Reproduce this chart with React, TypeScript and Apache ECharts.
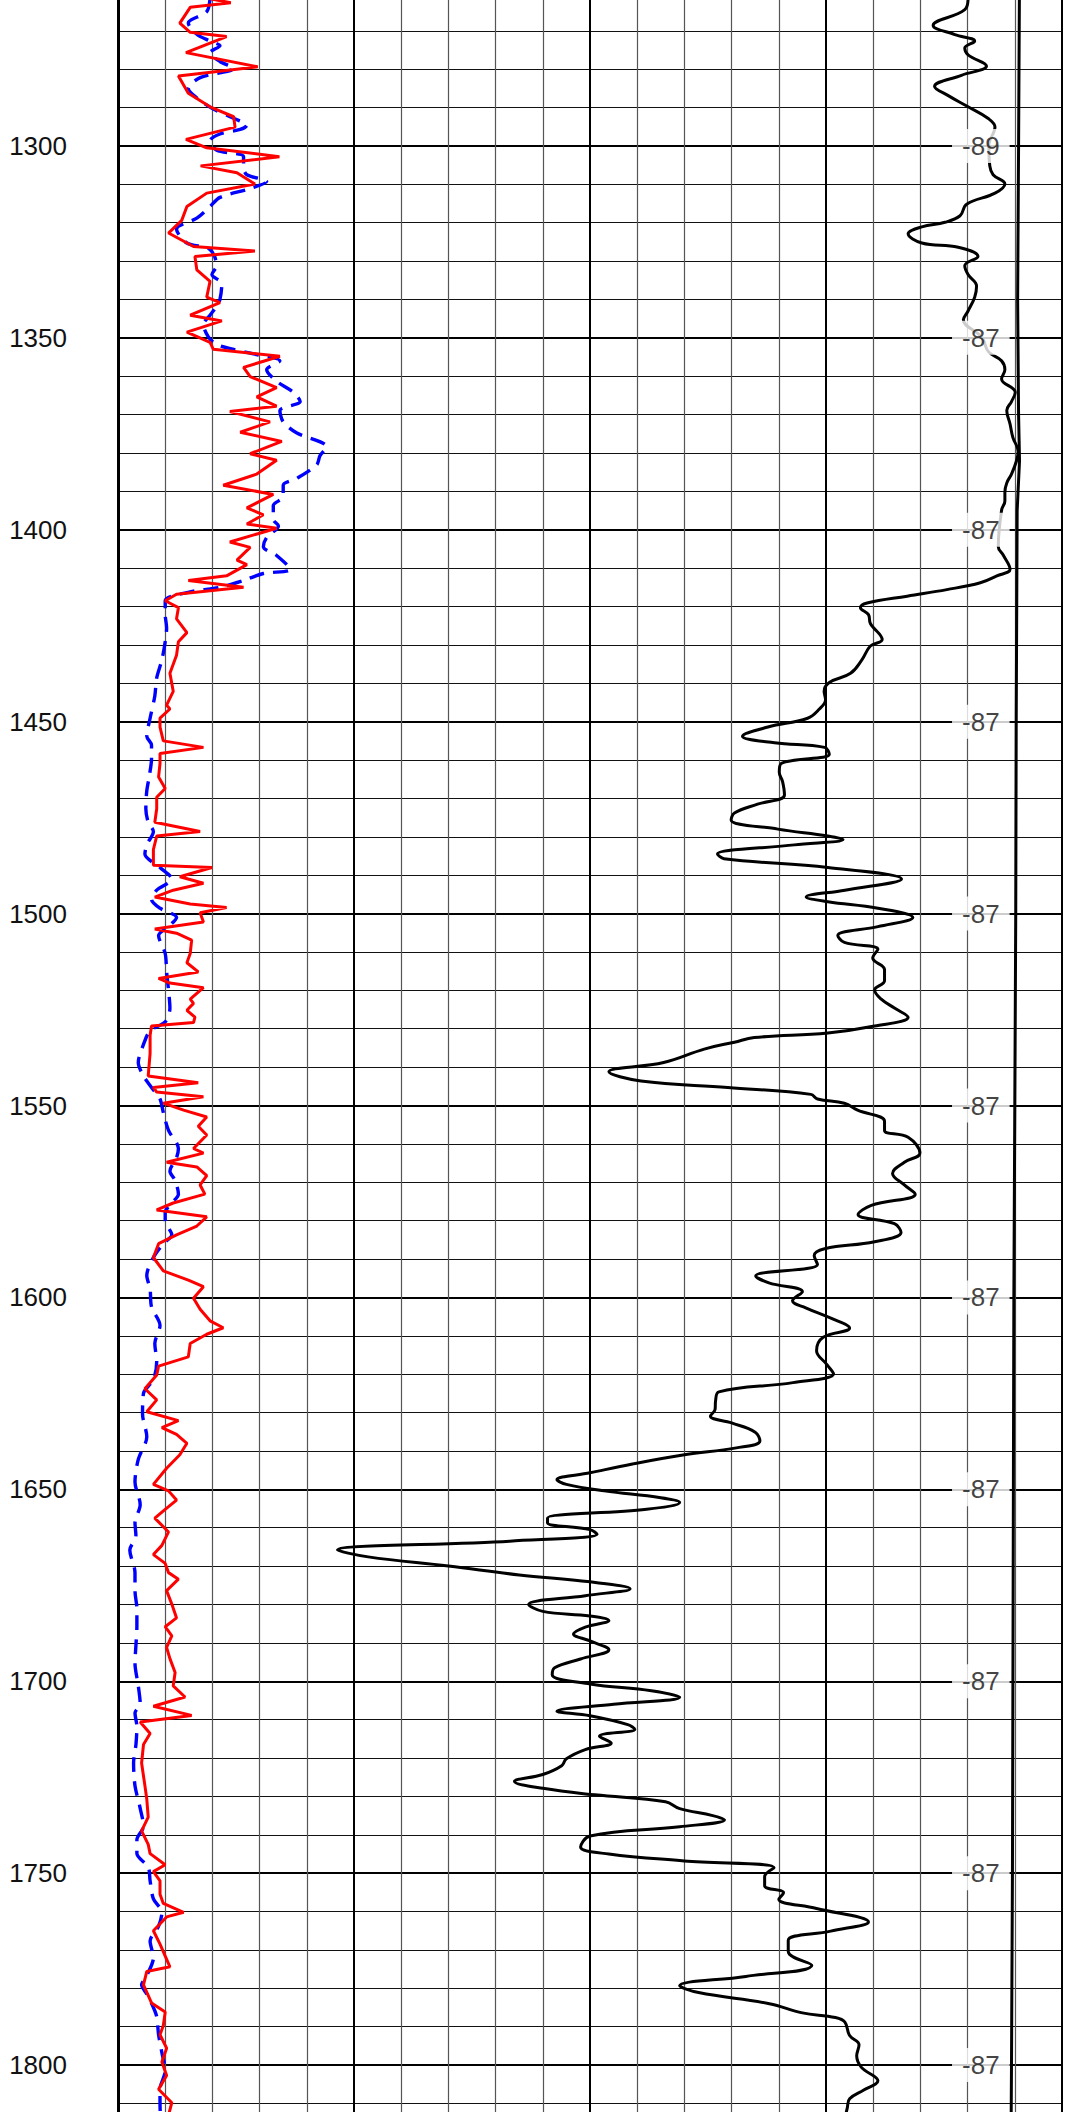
import React, { useEffect, useRef } from "react";
import * as echarts from "echarts";

// ---- depth axis ----
const DEPTH_MIN = 1250;
const DEPTH_MAX = 1850;
const DEPTH_STEP = 50;

// ---- red curve (solid) ----
const redDepth = [1261.5,1262.7,1263.9,1268.0,1270.4,1271.5,1275.7,1279.4,1281.8,1286.3,1289.8,1292.4,1295.1,1298.3,1300.5,1302.8,1305.2,1307.0,1309.9,1312.3,1315.8,1319.4,1322.7,1326.2,1327.4,1328.8,1332.3,1335.3,1339.4,1340.8,1344.1,1345.6,1348.5,1351.2,1353.0,1354.8,1357.7,1360.1,1363.0,1365.4,1367.8,1369.2,1371.9,1374.6,1377.0,1380.2,1381.9,1385.5,1388.4,1390.8,1394.3,1396.1,1398.5,1399.6,1403.2,1404.6,1407.9,1409.1,1412.0,1413.2,1415.0,1416.8,1418.5,1420.3,1423.2,1426.8,1429.2,1432.7,1437.4,1442.1,1445.7,
1446.7,1449.1,1451.4,1455.0,1456.7,1458.3,1460.9,1464.4,1467.4,1469.7,1472.7,1476.2,1478.6,1479.8,1483.3,1487.4,1488.0,1490.4,1492.1,1493.9,1495.7,1497.5,1498.4,1499.8,1502.2,1504.0,1505.1,1506.9,1510.4,1512.8,1515.2,1516.9,1518.1,1519.3,1522.3,1523.4,1525.2,1527.0,1528.4,1529.3,1531.7,1536.4,1542.3,1544.1,1545.3,1546.5,1547.7,1549.4,1551.2,1553.0,1555.4,1557.7,1561.2,1562.4,1564.8,1566.0,1568.3,1570.7,1573.1,1575.4,1577.2,1579.0,1581.4,1583.7,1586.0,1589.6,1593.1,1595.5,1597.2,1600.2,1603.1,1606.1,1607.9,1609.6,1612.0,1615.5,1617.9,1620.2,1623.8,1626.7,
1629.8,1632.1,1633.9,1635.7,1638.0,1641.0,1644.5,1648.7,1650.4,1652.8,1655.2,1657.5,1661.1,1664.6,1667.0,1669.3,1671.7,1673.4,1676.4,1679.9,1683.5,1685.8,1688.2,1691.2,1694.1,1697.7,1701.2,1704.1,1706.5,1708.9,1710.6,1713.6,1716.5,1721.3,1727.2,1730.7,1735.4,1739.0,1742.5,1744.9,1747.8,1749.6,1752.0,1755.5,1757.9,1760.2,1761.4,1765.0,1768.5,1774.4,1775.6,1779.1,1783.8,1786.2,1789.7,1792.1,1795.6,1799.2,1802.7,1806.3,1809.8,1814.0];
const redValue = [1.88,2.39,1.53,1.31,1.53,2.30,1.44,2.96,1.28,1.49,1.95,2.45,2.48,1.44,1.88,3.42,1.75,2.52,2.90,1.88,1.46,1.35,1.07,1.60,2.90,1.63,1.67,1.95,1.88,2.16,1.53,2.20,1.46,1.95,2.02,3.43,2.66,2.80,3.36,2.94,3.36,2.37,3.22,2.59,3.47,2.80,3.36,2.94,2.23,3.29,2.73,3.08,2.73,3.36,2.37,2.80,2.52,2.73,2.30,1.49,2.66,1.24,1.00,1.28,1.24,1.46,1.28,1.24,1.10,1.17,1.03,
1.10,0.89,0.89,0.96,1.81,0.89,0.89,0.86,1.00,0.82,0.82,0.78,1.74,0.82,0.75,0.75,1.99,1.31,1.81,1.17,0.78,1.53,2.30,1.74,1.81,0.78,1.24,1.56,1.53,1.46,1.70,0.86,1.10,1.81,1.53,1.60,1.46,1.63,1.60,0.71,0.68,0.68,0.64,1.70,0.75,0.82,1.81,0.96,1.39,1.88,1.70,1.88,1.60,1.81,1.03,1.67,1.88,1.74,1.84,1.17,0.82,1.88,1.67,1.24,0.86,0.75,0.96,1.49,1.81,1.60,1.74,1.95,2.23,1.88,1.53,1.49,0.86,0.82,0.57,0.82,
0.61,1.28,0.93,1.24,1.46,1.31,1.03,0.75,1.07,1.24,1.00,0.78,1.07,0.93,0.75,1.00,1.07,1.28,1.03,1.14,1.24,1.00,1.14,1.03,1.10,1.21,1.17,1.42,0.75,1.56,0.47,0.68,0.54,0.50,0.57,0.61,0.64,0.50,0.64,0.68,1.00,0.75,0.89,0.89,0.96,1.39,1.03,0.75,0.89,1.10,0.61,0.54,0.71,1.00,0.96,0.89,1.03,0.93,1.03,0.86,1.14,1.05];

// ---- blue curve (dashed) ----
const blueDepth = [1261.5,1265.0,1268.0,1270.9,1272.7,1273.9,1275.7,1278.0,1279.8,1282.2,1285.1,1287.5,1290.4,1292.8,1294.6,1295.7,1296.9,1298.7,1301.1,1302.8,1305.8,1307.5,1309.3,1311.1,1313.4,1315.8,1318.8,1321.7,1325.3,1327.0,1331.2,1333.5,1335.9,1340.0,1341.8,1344.1,1346.5,1351.2,1353.0,1354.2,1356.0,1358.3,1361.3,1364.2,1366.6,1368.9,1371.9,1374.8,1378.4,1380.7,1383.1,1386.6,1388.4,1391.4,1393.7,1397.3,1399.0,1402.0,1404.4,1406.7,1410.3,1411.4,1413.2,1415.0,1416.2,1418.5,1422.1,1425.6,1429.2,1433.9,1438.6,1443.3,
1449.1,1453.8,1456.1,1459.7,1464.4,1468.0,1472.7,1476.2,1478.6,1482.1,1484.5,1488.0,1491.0,1493.9,1496.3,1498.6,1501.0,1503.4,1505.7,1510.4,1515.2,1519.9,1524.6,1528.2,1530.5,1534.1,1538.8,1542.3,1545.3,1548.3,1551.8,1556.5,1561.2,1563.6,1567.1,1569.5,1573.1,1575.4,1577.8,1580.1,1583.7,1586.0,1589.6,1594.3,1597.8,1602.5,1607.3,1612.0,1616.7,1621.4,1625.0,
1630.4,1636.3,1642.2,1648.1,1654.0,1658.7,1662.2,1665.8,1671.7,1676.4,1681.1,1685.8,1690.6,1695.3,1701.2,1705.9,1708.3,1711.8,1716.5,1721.3,1727.2,1733.1,1737.8,1741.3,1744.9,1748.4,1752.0,1756.7,1760.2,1763.8,1767.7,1772.0,1776.7,1779.1,1781.5,1785.0,1787.4,1792.1,1796.8,1801.5,1806.3,1809.8,1814.0];
const blueValue = [1.95,1.88,1.49,1.67,1.95,2.16,1.95,2.16,2.45,1.74,1.49,1.67,2.02,2.45,2.73,2.59,2.16,1.95,2.09,2.66,2.66,2.73,3.15,2.80,2.16,1.95,1.67,1.24,1.46,1.95,2.09,1.99,2.20,2.16,2.09,1.95,1.81,2.02,2.45,2.87,3.43,3.15,3.36,3.72,3.86,3.43,3.50,3.79,4.42,4.28,4.21,3.79,3.50,3.50,3.29,3.29,3.40,3.15,3.08,3.36,3.65,3.08,2.66,2.16,1.53,1.00,1.00,1.03,1.00,0.93,0.82,0.78,
0.68,0.61,0.71,0.71,0.66,0.61,0.59,0.64,0.75,0.61,0.57,0.89,1.14,0.82,0.71,0.89,1.24,1.07,0.86,1.00,1.03,1.07,1.10,1.00,0.68,0.54,0.43,0.54,0.71,0.89,0.96,1.07,1.28,1.24,1.10,1.21,1.28,1.14,1.00,1.00,1.14,0.96,0.75,0.61,0.68,0.71,0.89,0.78,0.82,0.75,0.54,
0.52,0.61,0.43,0.36,0.47,0.36,0.38,0.25,0.36,0.36,0.40,0.40,0.38,0.36,0.43,0.47,0.36,0.40,0.38,0.33,0.36,0.47,0.54,0.40,0.40,0.64,0.68,0.75,0.93,0.86,0.68,0.75,0.61,0.50,0.61,0.75,0.82,0.86,0.93,1.00,0.89,0.89,0.90];

// ---- black curve ----
const spDepth = [1261.5,1264.5,1268.6,1271.0,1272.7,1274.5,1276.3,1279.2,1281.6,1284.5,1286.9,1289.8,1292.8,1295.1,1299.9,1305.2,1307.5,1309.9,1312.3,1315.2,1318.2,1319.9,1321.1,1322.9,1325.3,1326.4,1328.8,1331.2,1333.5,1336.5,1339.4,1343.0,1345.3,1349.8,1353.6,1356.0,1358.3,1360.7,1364.2,1366.6,1368.9,1372.5,1376.0,1379.6,1381.9,1385.5,1387.8,1390.2,1392.5,1394.9,1404.4,1406.7,1410.3,1412.0,1413.8,1415.6,1417.3,1419.1,1420.3,1422.1,1424.4,1428.6,1430.3,1433.9,1437.4,1439.8,1442.1,
1444.3,1446.7,1449.1,1451.4,1453.8,1455.5,1456.7,1458.5,1460.9,1463.2,1465.6,1469.1,1471.5,1473.8,1475.6,1478.0,1479.8,1480.7,1482.1,1484.5,1485.7,1488.0,1491.0,1493.9,1495.7,1496.9,1498.6,1501.0,1503.4,1505.7,1507.5,1509.3,1511.6,1514.6,1517.5,1519.9,1522.3,1524.6,1527.0,1529.3,1531.1,1532.3,1533.5,1535.3,1538.8,1541.2,1543.6,1545.3,1547.1,1548.3,1549.4,1551.2,1554.1,1556.5,1558.3,1562.4,1564.8,1567.7,1570.7,1573.1,1576.0,1578.4,1580.8,1583.1,1585.5,1587.3,1589.1,1591.4,1594.4,1596.2,1598.5,1600.9,1602.7,1605.6,1608.0,1610.4,1613.9,1617.5,1619.9,1622.2,1624.6,1627.0,
1629.2,1630.9,1632.7,1635.1,1637.4,1639.2,1641.0,1643.4,1645.7,1647.5,1648.7,1650.4,1652.2,1653.4,1655.2,1657.5,1658.7,1660.5,1661.7,1663.5,1665.8,1667.6,1670.0,1672.3,1674.1,1675.9,1677.7,1680.0,1681.8,1683.0,1684.2,1685.9,1687.7,1689.5,1691.8,1694.2,1696.5,1698.3,1700.7,1702.5,1704.2,1706.0,1707.8,1709.0,1711.3,1712.5,1714.3,1716.1,1717.8,1720.2,1722.0,1724.3,1726.1,1727.9,1729.6,1731.4,1733.2,1735.0,1736.1,1737.9,1740.3,1743.2,1745.0,1746.8,1748.6,1750.9,1753.3,1755.1,1756.8,1759.2,1762.7,1765.1,1767.5,1770.4,1774.0,1776.9,1779.3,1781.1,1784.0,1786.4,1787.6,1788.8,1792.3,1794.7,1797.6,1800.6,1804.1,1806.5,1808.8,1811.2,1814.0];
const spValue = [18.01,17.94,17.27,17.73,18.15,17.94,18.01,18.40,17.87,17.30,17.59,18.01,18.43,18.58,18.45,18.47,18.54,18.79,18.58,17.98,17.84,17.52,17.03,16.74,17.03,17.80,18.22,17.94,18.01,18.19,18.15,18.01,17.91,18.30,18.44,18.72,18.79,18.72,19.01,18.93,18.83,18.90,18.96,19.07,19.04,18.93,18.83,18.79,18.79,18.72,18.65,18.76,18.90,18.62,18.27,17.56,16.72,15.87,15.73,15.90,15.94,16.19,15.94,15.76,15.52,15.07,14.96,
14.99,14.86,14.61,13.77,13.23,13.91,14.97,15.07,14.05,14.01,14.08,14.12,13.55,13.06,12.99,13.98,15.04,15.36,14.33,12.70,12.84,15.04,16.60,15.40,14.58,15.04,16.10,16.84,16.10,15.25,15.39,16.10,15.99,16.24,16.24,16.03,16.17,16.45,16.74,16.03,15.04,13.48,13.06,12.42,11.56,10.40,11.08,12.92,14.68,14.82,15.39,15.67,16.24,16.24,16.74,16.99,16.66,16.41,16.66,16.89,15.96,15.68,16.45,16.59,16.03,14.97,14.75,14.82,13.51,13.79,14.50,14.29,14.57,15.14,15.50,14.94,14.80,15.02,15.16,14.30,12.73,12.66,
12.65,12.55,13.00,13.50,13.60,13.10,12.00,10.90,10.00,9.30,9.50,10.30,11.50,11.90,11.20,9.10,9.10,10.00,10.15,8.30,4.65,5.30,7.00,8.50,10.00,10.85,9.90,8.70,9.00,10.00,10.40,9.90,9.65,10.00,10.40,9.80,9.25,9.20,10.00,11.30,11.90,10.50,9.30,10.00,10.80,10.95,10.20,10.45,9.90,9.50,9.40,9.00,8.40,9.00,10.10,11.60,11.90,12.60,12.85,11.90,10.00,9.80,10.40,12.00,13.90,13.70,13.70,14.10,14.00,14.80,15.90,15.10,14.20,14.20,14.70,13.30,11.90,12.30,13.80,14.50,15.20,15.40,15.50,15.70,15.65,15.75,16.10,15.80,15.50,15.45,15.40];

// ---- near-constant black curve at right ----
const calDepth = [1255, 1300, 1340, 1370, 1382, 1395, 1450, 1500, 1550, 1600, 1650, 1700, 1750, 1800, 1820];
const calValue = [19.1, 19.08, 19.06, 19.08, 19.1, 19.05, 19.03, 19.02, 19.0, 18.98, 18.97, 18.96, 18.95, 18.93, 18.92];

// ---- curve value labels ----
const tagDepth = [1300, 1350, 1400, 1450, 1500, 1550, 1600, 1650, 1700, 1750, 1800];
const tagText = ["-89", "-87", "-87", "-87", "-87", "-87", "-87", "-87", "-87", "-87", "-87"];
const TAG_POS = 18.28;

const FONT = "'Liberation Sans', Arial, sans-serif";
const PX_PER_UNIT = 3.838;
const Y1300 = 146;

export default function App() {
  const ref = useRef<HTMLDivElement>(null);
  const chartHeight = (DEPTH_MAX - DEPTH_MIN) * PX_PER_UNIT;
  const chartTop = Y1300 - (1300 - DEPTH_MIN) * PX_PER_UNIT;

  useEffect(() => {
    if (!ref.current) return;
    const chart = echarts.init(ref.current, null, { renderer: "svg" });
    const pairs = (v: number[], d: number[]) => d.map((dd, i) => [v[i], dd]);
    chart.setOption({
      animation: false,
      backgroundColor: "#ffffff",
      grid: { left: 118, right: 9, top: 0, bottom: 0, outerBoundsMode: "none", containLabel: false },
      xAxis: {
        type: "value",
        min: 0,
        max: 20,
        interval: 5,
        axisLine: { show: false },
        axisTick: { show: false },
        axisLabel: { show: false },
        splitLine: { show: true, lineStyle: { color: "#000", width: 2 } },
        minorTick: { show: false, splitNumber: 5 },
        minorSplitLine: { show: true, lineStyle: { color: "#555", width: 1.2 } },
      },
      yAxis: {
        type: "value",
        inverse: true,
        min: DEPTH_MIN,
        max: DEPTH_MAX,
        interval: DEPTH_STEP,
        axisLine: { show: true, onZero: false, lineStyle: { color: "#000", width: 3 } },
        axisTick: { show: false },
        axisLabel: {
          show: true,
          margin: 51,
          fontSize: 26,
          color: "#111",
          fontFamily: FONT,
          formatter: (v: number) => (v === DEPTH_MIN || v === DEPTH_MAX ? "" : String(v)),
        },
        splitLine: { show: true, lineStyle: { color: "#000", width: 2 } },
        minorTick: { show: false, splitNumber: 5 },
        minorSplitLine: { show: true, lineStyle: { color: "#111", width: 1 } },
      },
      series: [
        {
          name: "blue",
          type: "line",
          data: pairs(blueValue, blueDepth),
          symbol: "none",
          smooth: 0.3,
          lineStyle: { color: "#0000ff", width: 3.4, type: [15, 9] },
          z: 3,
        },
        {
          name: "red",
          type: "line",
          data: pairs(redValue, redDepth),
          symbol: "none",
          lineStyle: { color: "#ff0000", width: 3 },
          z: 4,
        },
        {
          name: "black",
          type: "line",
          data: pairs(spValue, spDepth),
          symbol: "none",
          smooth: 0.4,
          lineStyle: { color: "#000", width: 3 },
          z: 4,
        },
        {
          name: "tags",
          type: "scatter",
          silent: true,
          symbolSize: 1,
          itemStyle: { color: "rgba(0,0,0,0)" },
          data: tagDepth.map((d, i) => ({ value: [TAG_POS, d], name: tagText[i] })),
          label: {
            show: true,
            position: "inside",
            formatter: (p: any) => p.name,
            fontSize: 26,
            lineHeight: 26,
            color: "#111",
            fontFamily: FONT,
            backgroundColor: "#ffffff",
            padding: [4, 10],
          },
          z: 10,
        },
        {
          name: "cal",
          type: "line",
          data: pairs(calValue, calDepth),
          symbol: "none",
          lineStyle: { color: "#000", width: 3 },
          z: 11,
        },
      ],
    });
    return () => chart.dispose();
  }, []);

  return (
    <div
      style={{
        position: "absolute",
        left: 0,
        top: 0,
        width: 1071,
        height: 2112,
        overflow: "hidden",
        background: "#fff",
      }}
    >
      <div
        ref={ref}
        style={{ position: "absolute", left: 0, top: chartTop, width: 1071, height: chartHeight }}
      />
    </div>
  );
}
